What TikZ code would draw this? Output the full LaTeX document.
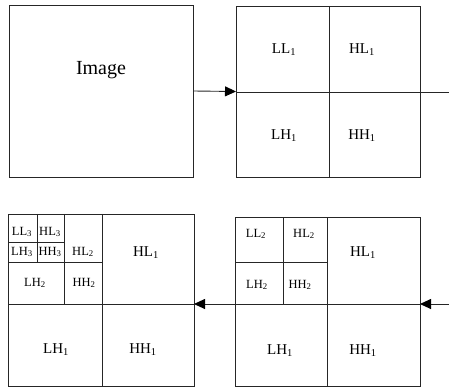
\documentclass[tikz,border=0pt]{standalone}
\usepackage{fontspec}
\setmainfont{Liberation Serif}
\usetikzlibrary{arrows.meta}
\begin{document}
\begin{tikzpicture}[x=1pt,y=-1pt,
  ln/.style={draw=black!85, line width=0.9pt},
  box/.style={ln, rectangle, inner sep=0pt, outer sep=0pt, anchor=north west},
  big/.style={font=\fontsize{15}{17}\selectfont, inner sep=0pt},
  small/.style={font=\fontsize{12.5}{14}\selectfont, inner sep=0pt},
  arr/.style={ln, -{Triangle[length=11pt,width=10pt,color=black]}}]
\useasboundingbox (0,0) rectangle (449,387);
% Image box
\node[box, minimum width=184pt, minimum height=172pt] (img) at (9,5) {};
\node[font=\fontsize{20}{24}\selectfont, inner sep=0pt] (imgl) at (101,70) {Image};
% level 1
\node[box, minimum width=184pt, minimum height=171pt] (b1) at (236,6) {};
\draw[ln] (329,6) -- (329,177);
\draw[ln] (236,92) -- (420,92);
\coordinate (b1e) at (420,92);
\coordinate (out1) at (449,92);
\node[big] (b1ll) at (284,50) {LL\textsubscript{1}};
\node[big] (b1hl) at (362,50) {HL\textsubscript{1}};
\node[big] (b1lh) at (284,136) {LH\textsubscript{1}};
\node[big] (b1hh) at (362,136) {HH\textsubscript{1}};
% level 2 (bottom right)
\node[box, minimum width=185pt, minimum height=169pt] (b3) at (235,217) {};
\draw[ln] (327,217) -- (327,386);
\draw[ln] (235,304) -- (420,304);
\draw[ln] (283,217) -- (283,304);
\draw[ln] (235,262) -- (327,262);
\coordinate (b3e) at (420,304);
\coordinate (b3w) at (235,304);
\coordinate (in3) at (449,304);
\node[small] (b3ll) at (256,234) {LL\textsubscript{2}};
\node[small] (b3hl) at (304,234) {HL\textsubscript{2}};
\node[small] (b3lh) at (257,285) {LH\textsubscript{2}};
\node[small] (b3hh) at (300,285) {HH\textsubscript{2}};
\node[big] (b3hl1) at (363,253) {HL\textsubscript{1}};
\node[big] (b3lh1) at (280,351) {LH\textsubscript{1}};
\node[big] (b3hh1) at (363,351) {HH\textsubscript{1}};
% level 3 (bottom left)
\node[box, minimum width=186pt, minimum height=172pt] (b2) at (8,214) {};
\draw[ln] (102,214) -- (102,386);
\draw[ln] (8,304) -- (194,304);
\draw[ln] (64,214) -- (64,304);
\draw[ln] (8,262) -- (102,262);
\draw[ln] (37,214) -- (37,262);
\draw[ln] (8,242) -- (64,242);
\coordinate (b2e) at (194,304);
\node[small] (b2ll3) at (22,232) {LL\textsubscript{3}};
\node[small] (b2hl3) at (50,232) {HL\textsubscript{3}};
\node[small] (b2lh3) at (22,252) {LH\textsubscript{3}};
\node[small] (b2hh3) at (50,252) {HH\textsubscript{3}};
\node[small] (b2hl2) at (83,252) {HL\textsubscript{2}};
\node[small] (b2lh2) at (35,283) {LH\textsubscript{2}};
\node[small] (b2hh2) at (84,283) {HH\textsubscript{2}};
\node[big] (b2hl1) at (146,253) {HL\textsubscript{1}};
\node[big] (b2lh1) at (56,350) {LH\textsubscript{1}};
\node[big] (b2hh1) at (143,350) {HH\textsubscript{1}};
% connectors
\draw[arr] (img.east) -- (b1.west);
\draw[ln] (b1e) -- (out1);
\draw[arr] (in3) -- (b3e);
\draw[arr] (b3w) -- (b2e);
\end{tikzpicture}
\end{document}
